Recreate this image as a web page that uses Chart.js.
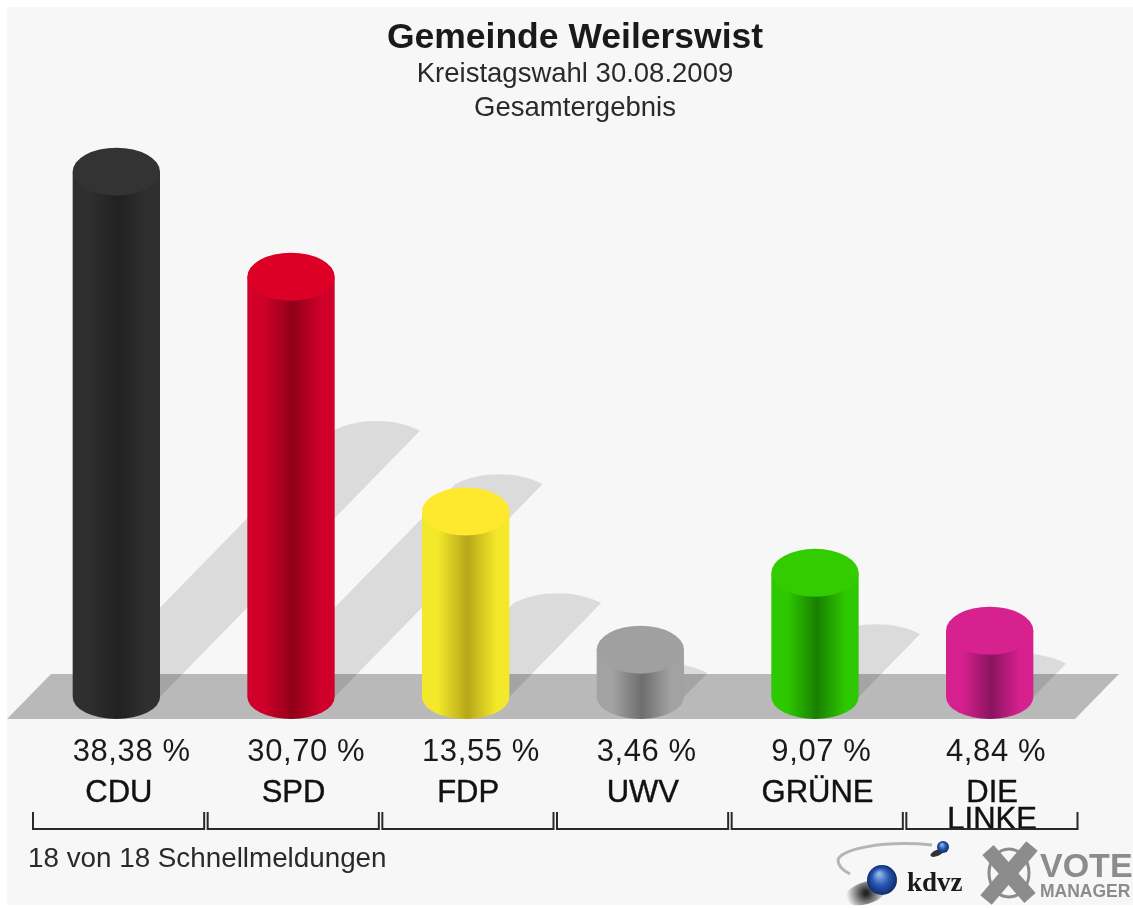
<!DOCTYPE html>
<html>
<head>
<meta charset="utf-8">
<title>Gemeinde Weilerswist</title>
<script src="https://cdn.jsdelivr.net/npm/chart.js@4"></script>
<style>html,body{margin:0;padding:0;background:#fff}canvas{display:block}</style>
</head>
<body>
<canvas id="c" width="1133" height="908"></canvas>
<script>
const parties = ['CDU', 'SPD', 'FDP', 'UWV', 'GRÜNE', ['DIE', 'LINKE']];
const shares = [38.38, 30.70, 13.55, 3.46, 9.07, 4.84];
const shareLabels = ['38,38 %', '30,70 %', '13,55 %', '3,46 %', '9,07 %', '4,84 %'];
const titleText = 'Gemeinde Weilerswist';
const subtitleLines = ['Kreistagswahl 30.08.2009', 'Gesamtergebnis'];
const footnote = '18 von 18 Schnellmeldungen';

const sideColors = ['#2f2f2f', '#d0002a', '#f4e82a', '#a2a2a2', '#2ec800', '#d6208e'];
const coreColors = ['#212121', '#910018', '#b5a71a', '#6e6e6e', '#188000', '#8a1460'];
const capColors = ['#333333', '#dc0027', '#ffe92e', '#a0a0a0', '#33cc00', '#d6218f'];
const FONT = '"Liberation Sans", Arial, sans-serif';
const CAP_RY = 24, BASE_RY = 22;

function sideGradient(c, left, right, i) {
  const g = c.createLinearGradient(left, 0, right, 0);
  g.addColorStop(0, sideColors[i]);
  g.addColorStop(0.18, sideColors[i]);
  g.addColorStop(0.52, coreColors[i]);
  g.addColorStop(0.85, sideColors[i]);
  g.addColorStop(1, sideColors[i]);
  return g;
}

const scene = {
  id: 'scene',
  beforeDraw(chart) {
    const c = chart.ctx;
    c.save();
    c.fillStyle = '#f7f7f7';
    c.fillRect(7, 7, 1126, 898);
    c.restore();
  },
  beforeDatasetsDraw(chart) {
    const c = chart.ctx, xs = chart.scales.x, ys = chart.scales.y, y0 = ys.getPixelForValue(0);
    const hw = (xs.getPixelForValue(1) - xs.getPixelForValue(0)) / 4;
    c.save();
    // floor
    c.fillStyle = '#b9b9b9';
    c.beginPath();
    c.moveTo(7, y0 + 22); c.lineTo(51, y0 - 23); c.lineTo(1119, y0 - 23); c.lineTo(1075, y0 + 22);
    c.closePath(); c.fill();
    // shadows (one union path)
    c.fillStyle = 'rgba(0,0,0,0.11)';
    c.beginPath();
    shares.forEach((v, i) => {
      const cx = xs.getPixelForValue(i), h = y0 - ys.getPixelForValue(v);
      const dx = h * 0.495, dy = h * 0.507;
      c.moveTo(cx - hw, y0);
      c.lineTo(cx - hw + dx, y0 - dy);
      c.bezierCurveTo(cx - hw + dx + 25, y0 - dy - 13, cx + hw + dx - 25, y0 - dy - 13, cx + hw + dx, y0 - dy);
      c.lineTo(cx + hw, y0);
      c.closePath();
    });
    c.fill();
    // round cylinder bottoms
    shares.forEach((v, i) => {
      const cx = xs.getPixelForValue(i);
      c.fillStyle = sideGradient(c, cx - hw, cx + hw, i);
      c.beginPath();
      c.ellipse(cx, y0, hw, BASE_RY, 0, 0, Math.PI);
      c.closePath(); c.fill();
    });
    c.restore();
  },
  afterDatasetsDraw(chart) {
    const c = chart.ctx, xs = chart.scales.x, ys = chart.scales.y;
    const hw = (xs.getPixelForValue(1) - xs.getPixelForValue(0)) / 4;
    c.save();
    shares.forEach((v, i) => {
      c.fillStyle = capColors[i];
      c.beginPath();
      c.ellipse(xs.getPixelForValue(i), ys.getPixelForValue(v), hw, CAP_RY, 0, 0, Math.PI * 2);
      c.fill();
    });
    c.restore();
  },
  afterDraw(chart) {
    const c = chart.ctx, xs = chart.scales.x, ys = chart.scales.y, y0 = ys.getPixelForValue(0);
    const step = xs.getPixelForValue(1) - xs.getPixelForValue(0);
    const hw = step / 4;
    c.save();
    // share labels, left aligned with each bar
    c.fillStyle = '#1a1a1a';
    c.font = '31px ' + FONT;
    c.letterSpacing = '0.6px';
    c.textBaseline = 'alphabetic';
    c.textAlign = 'left';
    shareLabels.forEach((t, i) => c.fillText(t, xs.getPixelForValue(i) - hw, y0 + 64));
    c.letterSpacing = '0px';
    // brackets
    c.strokeStyle = '#2a2a2a';
    c.lineWidth = 2;
    shares.forEach((v, i) => {
      const cx = xs.getPixelForValue(i);
      c.beginPath();
      c.moveTo(cx - step / 2 + 4, y0 + 115);
      c.lineTo(cx - step / 2 + 4, y0 + 132);
      c.lineTo(cx + step / 2 + 0.5, y0 + 132);
      c.lineTo(cx + step / 2 + 0.5, y0 + 115);
      c.stroke();
    });
    // footnote
    c.fillStyle = '#2a2a2a';
    c.font = '27.8px ' + FONT;
    c.fillText(footnote, 28, 867);
    // kdvz logo
    c.strokeStyle = '#b5b5b5';
    c.lineWidth = 3;
    c.beginPath();
    c.moveTo(932, 845);
    c.bezierCurveTo(880, 840, 840, 850, 838, 860);
    c.quadraticCurveTo(838, 868, 850, 874);
    c.stroke();
    const ball = (x, y, r) => {
      const g = c.createRadialGradient(x - r * .2, y - r * .4, r * .1, x, y, r);
      g.addColorStop(0, '#8fb2e8'); g.addColorStop(0.5, '#2a58b4'); g.addColorStop(1, '#0d2c70');
      c.fillStyle = g;
      c.beginPath(); c.arc(x, y, r, 0, Math.PI * 2); c.fill();
    };
    const sh = c.createRadialGradient(866, 893, 2, 866, 893, 20);
    sh.addColorStop(0, 'rgba(0,0,0,.85)'); sh.addColorStop(1, 'rgba(0,0,0,0)');
    c.fillStyle = sh;
    c.beginPath(); c.ellipse(866, 893, 22, 11, -0.3, 0, Math.PI * 2); c.fill();
    ball(882, 880, 15);
    c.fillStyle = '#333';
    c.beginPath(); c.ellipse(937, 853, 7, 3, -0.4, 0, Math.PI * 2); c.fill();
    ball(943, 847, 6);
    c.fillStyle = '#1a1a1a';
    c.font = 'bold 27px "Liberation Serif", serif';
    c.fillText('kdvz', 907, 891);
    // votemanager logo
    c.strokeStyle = '#8c8c8c';
    c.lineWidth = 15;
    c.beginPath(); c.moveTo(986, 900); c.lineTo(1032, 846); c.moveTo(988, 850); c.lineTo(1030, 898); c.stroke();
    c.lineWidth = 3;
    c.beginPath(); c.ellipse(1009, 873, 20, 24, 0, 0, Math.PI * 2); c.stroke();
    c.fillStyle = '#8c8c8c';
    c.font = 'bold 34px ' + FONT;
    c.fillText('VOTE', 1040, 877);
    c.font = 'bold 17.5px ' + FONT;
    c.fillText('MANAGER', 1040, 897);
    c.restore();
  }
};

new Chart(document.getElementById('c'), {
  type: 'bar',
  plugins: [scene],
  data: {
    labels: parties,
    datasets: [{
      data: shares,
      barPercentage: 0.5,
      categoryPercentage: 1,
      borderWidth: 0,
      backgroundColor(ctx) {
        const xs = ctx.chart.scales.x;
        const i = ctx.dataIndex;
        if (!xs || !xs.width || i === undefined) return sideColors[i || 0];
        const cx = xs.getPixelForValue(i), hw = (xs.getPixelForValue(1) - xs.getPixelForValue(0)) / 4;
        return sideGradient(ctx.chart.ctx, cx - hw, cx + hw, i);
      }
    }]
  },
  options: {
    responsive: false,
    animation: false,
    events: [],
    layout: { padding: { left: 29, right: 12, top: 0, bottom: 0 } },
    plugins: {
      legend: { display: false },
      tooltip: { enabled: false },
      title: {
        display: true, text: titleText, color: '#1a1a1a',
        font: { family: FONT, size: 35.5, weight: 'bold', lineHeight: 1.1 },
        padding: { top: 18.5, bottom: 0 }
      },
      subtitle: {
        display: true, text: subtitleLines, color: '#2a2a2a',
        font: { family: FONT, size: 27.5, weight: 'normal', lineHeight: 1.236 },
        padding: { top: 0, bottom: 0 }
      }
    },
    scales: {
      x: {
        grid: { display: false },
        border: { display: false },
        ticks: {
          color: '#111', padding: 75, labelOffset: 2.5, maxRotation: 0, autoSkip: false,
          textStrokeColor: '#111', textStrokeWidth: 0.4,
          font: { family: FONT, size: 31, lineHeight: 0.87 }
        },
        afterFit(s) { s.height = 211; }
      },
      y: {
        position: 'right', min: 0, max: 41.75,
        grid: { display: false },
        border: { display: false },
        ticks: { display: false },
        afterFit(s) { s.width = 44; }
      }
    }
  }
});
</script>
</body>
</html>
